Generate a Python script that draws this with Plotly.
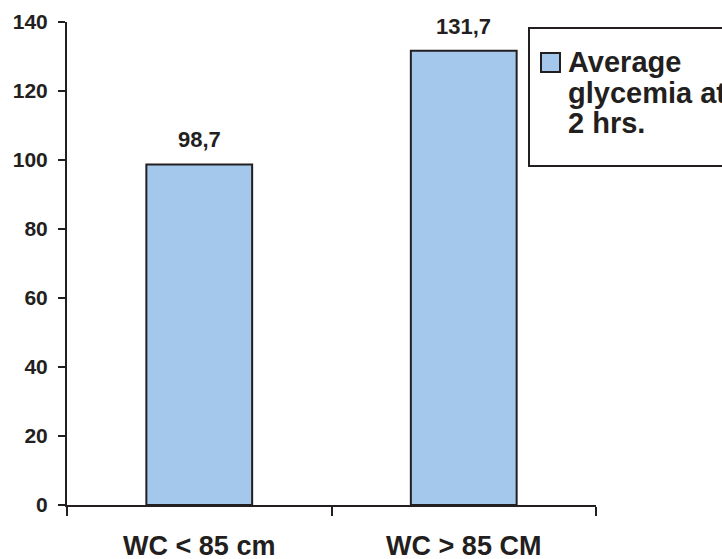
import plotly.graph_objects as go

# Chart data
categories = ["WC < 85 cm", "WC > 85 CM"]
glycemia_2h = [98.7, 131.7]
series_name = ["Average", "glycemia at", "2 hrs."]
y_ticks = [0, 20, 40, 60, 80, 100, 120, 140]

INK = "#231F20"
FILL = "#A4C8EC"
FONT = "Liberation Sans, Arial, sans-serif"

W, H = 722, 559
L, R, T, B = 67, 126, 22, 54
plot_w = W - L - R
plot_h = H - T - B


def px_x(p):
    return (p - L) / plot_w


def px_y(p):
    return (H - B - p) / plot_h


fig = go.Figure()
fig.add_trace(go.Bar(
    x=categories,
    y=glycemia_2h,
    width=0.4,
    marker=dict(color=FILL, line=dict(color=INK, width=2)),
    showlegend=False,
    hoverinfo="skip",
))

annotations = []
# value labels above the bars
for c, v in zip(categories, glycemia_2h):
    annotations.append(dict(
        x=c, y=v, xref="x", yref="y",
        text=f"{v:.1f}".replace(".", ","),
        showarrow=False, yanchor="bottom", yshift=10,
        font=dict(family=FONT, size=22, color=INK, weight="bold"),
    ))

# hand-drawn legend box (runs past the right edge)
shapes = [
    dict(type="rect", xref="paper", yref="paper",
         x0=px_x(529), x1=px_x(760), y0=px_y(166), y1=px_y(28),
         line=dict(color=INK, width=2), fillcolor="white", layer="above"),
    dict(type="rect", xref="paper", yref="paper",
         x0=px_x(541), x1=px_x(560), y0=px_y(72), y1=px_y(53),
         line=dict(color=INK, width=2), fillcolor=FILL, layer="above"),
]
for text, cy in zip(series_name, [62, 93, 123]):
    annotations.append(dict(
        x=px_x(566), y=px_y(cy), xref="paper", yref="paper",
        text=text, showarrow=False, xanchor="left", yanchor="middle",
        font=dict(family=FONT, size=29, color=INK, weight="bold"),
    ))

fig.update_layout(
    width=W, height=H,
    margin=dict(l=L, r=R, t=T, b=B, pad=0, autoexpand=False),
    paper_bgcolor="white", plot_bgcolor="white",
    annotations=annotations,
    shapes=shapes,
    bargap=0.6,
)
fig.update_xaxes(
    type="category", range=[-0.5, 1.5], automargin=False,
    showline=True, linecolor=INK, linewidth=2,
    ticks="outside", tickson="boundaries", ticklen=9, tickwidth=2, tickcolor=INK,
    showgrid=False, zeroline=False,
    tickfont=dict(family=FONT, size=27, color=INK, weight="bold"),
    ticklabelstandoff=16,
)
fig.update_yaxes(
    range=[0, 140], tickvals=y_ticks, automargin=False,
    showline=True, linecolor=INK, linewidth=2,
    ticks="outside", ticklen=7, tickwidth=2, tickcolor=INK,
    showgrid=False, zeroline=False,
    tickfont=dict(family=FONT, size=21, color=INK, weight="bold"),
    ticklabelstandoff=6,
)

fig.write_html("out.html")
